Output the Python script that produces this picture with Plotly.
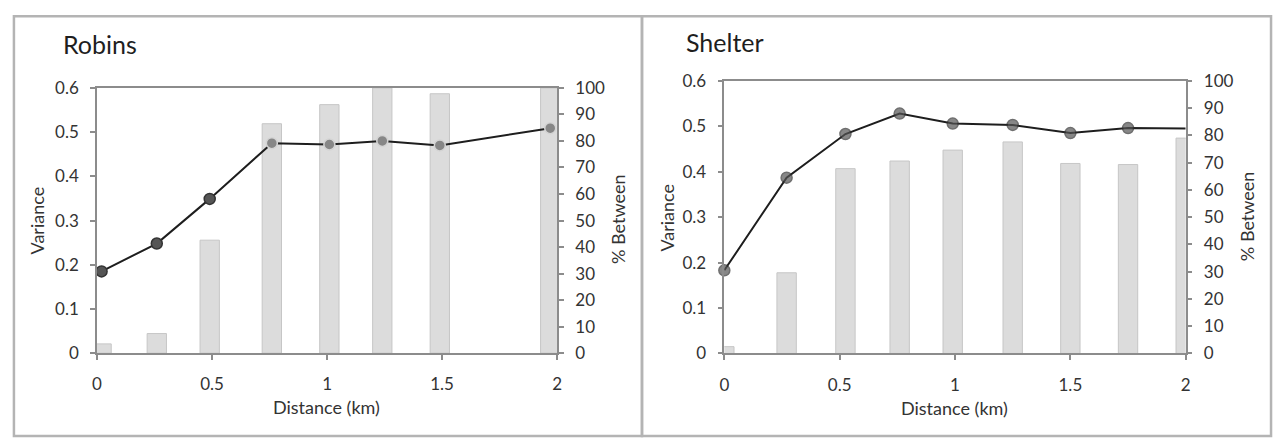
import plotly.graph_objects as go

# Robins panel
robins_dist = [0.02, 0.26, 0.49, 0.76, 1.01, 1.24, 1.49, 1.97]
robins_variance = [0.185, 0.248, 0.349, 0.475, 0.472, 0.480, 0.470, 0.509]
robins_pct_between = [3.5, 7.4, 42.6, 86.5, 93.7, 100, 97.8, 100]

# Shelter panel
shelter_dist = [0.0, 0.27, 0.525, 0.76, 0.99, 1.25, 1.50, 1.75, 2.0]
shelter_variance = [0.183, 0.387, 0.483, 0.528, 0.506, 0.503, 0.485, 0.496, 0.495]
shelter_pct_between = [2.5, 29.6, 67.8, 70.6, 74.6, 77.6, 69.7, 69.3, 79.0]

panel_titles = ["Robins", "Shelter"]
x_ticks = [0, 0.5, 1, 1.5, 2]
x_tick_text = ["0", "0.5", "1", "1.5", "2"]
var_ticks = [0, 0.1, 0.2, 0.3, 0.4, 0.5, 0.6]
var_tick_text = ["0", "0.1", "0.2", "0.3", "0.4", "0.5", "0.6"]
pct_ticks = list(range(0, 101, 10))

W, H = 1280, 448
FONT = "Lato, Open Sans, sans-serif"
TEXT = "#333333"
AXIS = "#8c8c8c"
BAR_FILL = "#dcdcdc"
BAR_EDGE = "#c6c6c6"


def px(x):
    return x / W


def py(y):
    return 1 - y / H


fig = go.Figure()

# bars sit on the base (right-hand %) axis, the variance line on the overlay
fig.add_trace(go.Bar(
    x=robins_dist, y=robins_pct_between, xaxis="x", yaxis="y",
    width=0.084, marker=dict(color=BAR_FILL, line=dict(color=BAR_EDGE, width=1)),
    showlegend=False, hoverinfo="skip"))
fig.add_trace(go.Scatter(
    x=robins_dist, y=robins_variance, xaxis="x", yaxis="y2",
    mode="lines+markers", line=dict(color="#1e1e1e", width=2),
    cliponaxis=False,
    marker=dict(size=11,
                color=["#555555"] * 3 + ["#878787"] * 5,
                line=dict(color=["#333333"] * 3 + ["#d4d4d4"] * 5, width=1.5)),
    showlegend=False))

fig.add_trace(go.Bar(
    x=shelter_dist, y=shelter_pct_between, xaxis="x2", yaxis="y3",
    width=0.084, marker=dict(color=BAR_FILL, line=dict(color=BAR_EDGE, width=1)),
    showlegend=False, hoverinfo="skip"))
fig.add_trace(go.Scatter(
    x=shelter_dist, y=shelter_variance, xaxis="x2", yaxis="y4",
    mode="lines+markers", line=dict(color="#1e1e1e", width=2),
    cliponaxis=False,
    marker=dict(size=[11] * 8 + [0], color="#555555",
                line=dict(color="#333333", width=1.5)),
    showlegend=False))

tickfont = dict(family=FONT, size=17, color=TEXT)


def xaxis_cfg(domain, anchor):
    return dict(domain=domain, anchor=anchor, range=[0, 2],
                tickvals=x_ticks, ticktext=x_tick_text,
                showline=True, linecolor=AXIS, linewidth=1.5, mirror=True,
                ticks="outside", ticklen=5, tickcolor=AXIS, tickwidth=1.5,
                showgrid=False, zeroline=False, tickfont=tickfont,
                ticklabelstandoff=10)


def pct_cfg(domain, anchor):
    return dict(domain=domain, anchor=anchor, side="right", range=[0, 100],
                tickvals=pct_ticks, showline=True, linecolor=AXIS, linewidth=1.5,
                ticks="outside", ticklen=5, tickcolor=AXIS, tickwidth=1.5,
                showgrid=False, zeroline=False, tickfont=tickfont,
                ticklabelstandoff=8)


def var_cfg(over, anchor):
    return dict(overlaying=over, anchor=anchor, side="left", range=[0, 0.6],
                tickvals=var_ticks, ticktext=var_tick_text,
                showline=True, linecolor=AXIS, linewidth=1.5,
                ticks="outside", ticklen=5, tickcolor=AXIS, tickwidth=1.5,
                showgrid=False, zeroline=False, tickfont=tickfont,
                ticklabelstandoff=8)


left_x = [px(92.7), px(556.5)]
left_y = [py(359), py(80.7)]
right_x = [px(725), px(1190)]
right_y = [py(359.3), py(73.3)]

fig.update_layout(
    width=W, height=H,
    margin=dict(l=0, r=0, t=0, b=0),
    paper_bgcolor="white", plot_bgcolor="rgba(0,0,0,0)",
    barmode="overlay",
    xaxis=xaxis_cfg(left_x, "y"),
    yaxis=pct_cfg(left_y, "x"),
    yaxis2=var_cfg("y", "x"),
    xaxis2=xaxis_cfg(right_x, "y3"),
    yaxis3=pct_cfg(right_y, "x2"),
    yaxis4=var_cfg("y3", "x2"),
    font=dict(family=FONT, color=TEXT),
)

ann = []
ann.append(dict(text=panel_titles[0], x=px(56), y=py(35), xanchor="left", yanchor="middle",
                font=dict(family=FONT, size=25, color="#1e1e1e")))
ann.append(dict(text=panel_titles[1], x=px(684), y=py(33), xanchor="left", yanchor="middle",
                font=dict(family=FONT, size=25, color="#1e1e1e")))
axis_font = dict(family=FONT, size=18, color=TEXT)
for cx, cy in [(324, 415), (957, 416)]:
    ann.append(dict(text="Distance (km)", x=px(cx), y=py(cy), xanchor="center",
                    yanchor="middle", font=axis_font))
for cx, cy in [(32, 220), (667, 217)]:
    ann.append(dict(text="Variance", x=px(cx), y=py(cy), xanchor="center",
                    yanchor="middle", textangle=-90, font=axis_font))
for cx, cy in [(618, 218), (1252, 215)]:
    ann.append(dict(text="% Between", x=px(cx), y=py(cy), xanchor="center",
                    yanchor="middle", textangle=-90, font=axis_font))
for a in ann:
    a.update(xref="paper", yref="paper", showarrow=False)
fig.update_layout(annotations=ann)

# panel frames
frame = dict(type="rect", xref="paper", yref="paper",
             line=dict(color="#b4b4b4", width=2.5), fillcolor="rgba(0,0,0,0)", layer="above")
fig.update_layout(shapes=[
    dict(frame, x0=px(9), x1=px(642), y0=py(446), y1=py(5.5)),
    dict(frame, x0=px(642), x1=px(1276), y0=py(446), y1=py(5.5)),
])

fig.write_html("out.html")
